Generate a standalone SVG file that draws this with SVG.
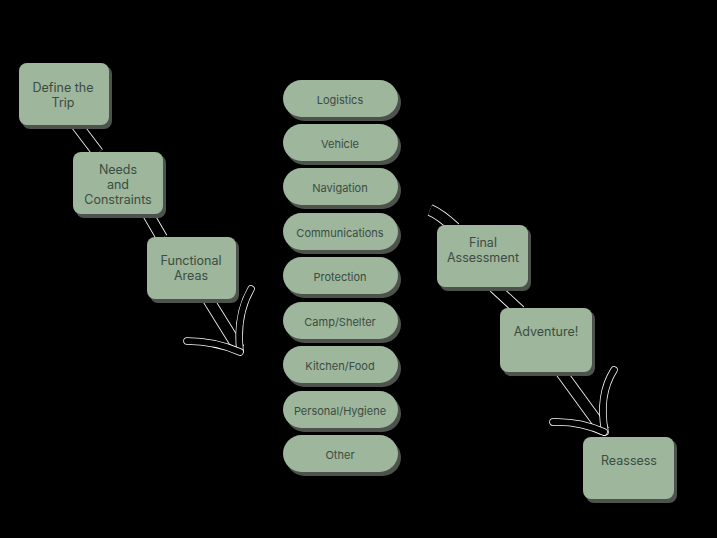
<svg xmlns="http://www.w3.org/2000/svg" width="717" height="538" viewBox="0 0 717 538">
<defs>
<style>
.bg{fill:#000}
.sh{fill:#4d524d}
.bx{fill:#9db69c}
.t{font-family:Inter,"Liberation Sans",sans-serif;font-size:12.5px;fill:#3b4c42;text-anchor:middle}
.tp{font-family:Inter,"Liberation Sans",sans-serif;font-size:11px;fill:#3b4c42;text-anchor:middle}
.ow{fill:none;stroke:#fff;stroke-width:12;stroke-linecap:butt;stroke-linejoin:round}
.ob{fill:none;stroke:#000;stroke-width:10.4;stroke-linecap:butt;stroke-linejoin:round}
.hw{fill:none;stroke:#fff;stroke-width:7.5;stroke-linecap:round}
.hb{fill:none;stroke:#000;stroke-width:6;stroke-linecap:round}
</style>
</defs>
<rect class="bg" x="0" y="0" width="717" height="538"/>
<g id="connectors">
<path class="ow" d="M76,124 L98,153"/><path class="ob" d="M76,124 L98,153"/>
<path class="ow" d="M148,214 L162,238"/><path class="ob" d="M148,214 L162,238"/>
<path class="ow" d="M208,299 L239,349"/><path class="ob" d="M208,299 L239,349"/>
<path class="hw" d="M251,289 Q236,315 240,351"/><path class="hb" d="M251,289 Q236,315 240,351"/>
<path class="hw" d="M187,341 Q215,341 240,352"/><path class="hb" d="M187,341 Q215,341 240,352"/>
<path class="ow" d="M430,210 Q440,214 455,228"/><path class="ob" d="M430,210 Q440,214 455,228"/>
<path class="ow" d="M494,287 L520,311"/><path class="ob" d="M494,287 L520,311"/>
<path class="ow" d="M561,372 L604,431"/><path class="ob" d="M561,372 L604,431"/>
<path class="hw" d="M614,370 Q598,395 605,432"/><path class="hb" d="M614,370 Q598,395 605,432"/>
<path class="hw" d="M553,422 Q580,421 604,432"/><path class="hb" d="M553,422 Q580,421 604,432"/>
</g>
<g id="define-trip">
<rect class="sh" x="22" y="66" width="90" height="63" rx="8"/>
<rect class="bx" x="19" y="63" width="90" height="62" rx="8"/>
<text class="t" x="63" y="92">Define the</text>
<text class="t" x="63" y="107">Trip</text>
</g>
<g id="needs">
<rect class="sh" x="76" y="155" width="90" height="63" rx="8"/>
<rect class="bx" x="73" y="152" width="90" height="62" rx="8"/>
<text class="t" x="118" y="174">Needs</text>
<text class="t" x="118" y="189">and</text>
<text class="t" x="118" y="204">Constraints</text>
</g>
<g id="functional">
<rect class="sh" x="150" y="240" width="89" height="63" rx="8"/>
<rect class="bx" x="147" y="237" width="89" height="62" rx="8"/>
<text class="t" x="191" y="265">Functional</text>
<text class="t" x="191" y="280">Areas</text>
</g>
<g id="p-logistics"><rect class="sh" x="286" y="84" width="115" height="37" rx="18.5"/><rect class="bx" x="283" y="80" width="115" height="37" rx="18.5"/><text class="tp" x="340" y="104">Logistics</text></g>
<g id="p-vehicle"><rect class="sh" x="286" y="128" width="115" height="37" rx="18.5"/><rect class="bx" x="283" y="124" width="115" height="37" rx="18.5"/><text class="tp" x="340" y="148">Vehicle</text></g>
<g id="p-navigation"><rect class="sh" x="286" y="172" width="115" height="37" rx="18.5"/><rect class="bx" x="283" y="168" width="115" height="37" rx="18.5"/><text class="tp" x="340" y="192">Navigation</text></g>
<g id="p-communications"><rect class="sh" x="286" y="217" width="115" height="37" rx="18.5"/><rect class="bx" x="283" y="213" width="115" height="37" rx="18.5"/><text class="tp" x="340" y="237">Communications</text></g>
<g id="p-protection"><rect class="sh" x="286" y="261" width="115" height="37" rx="18.5"/><rect class="bx" x="283" y="257" width="115" height="37" rx="18.5"/><text class="tp" x="340" y="281">Protection</text></g>
<g id="p-camp"><rect class="sh" x="286" y="306" width="115" height="37" rx="18.5"/><rect class="bx" x="283" y="302" width="115" height="37" rx="18.5"/><text class="tp" x="340" y="326">Camp/Shelter</text></g>
<g id="p-kitchen"><rect class="sh" x="286" y="350" width="115" height="37" rx="18.5"/><rect class="bx" x="283" y="346" width="115" height="37" rx="18.5"/><text class="tp" x="340" y="370">Kitchen/Food</text></g>
<g id="p-personal"><rect class="sh" x="286" y="395" width="115" height="37" rx="18.5"/><rect class="bx" x="283" y="391" width="115" height="37" rx="18.5"/><text class="tp" x="340" y="415">Personal/Hygiene</text></g>
<g id="p-other"><rect class="sh" x="286" y="439" width="115" height="37" rx="18.5"/><rect class="bx" x="283" y="435" width="115" height="37" rx="18.5"/><text class="tp" x="340" y="459">Other</text></g>
<g id="final">
<rect class="sh" x="440" y="228" width="91" height="63" rx="8"/>
<rect class="bx" x="437" y="225" width="91" height="62" rx="8"/>
<text class="t" x="483" y="247">Final</text>
<text class="t" x="483" y="262">Assessment</text>
</g>
<g id="adventure">
<rect class="sh" x="503" y="311" width="92" height="65" rx="8"/>
<rect class="bx" x="500" y="308" width="92" height="64" rx="8"/>
<text class="t" x="546" y="336">Adventure!</text>
</g>
<g id="reassess">
<rect class="sh" x="586" y="440" width="91" height="63" rx="8"/>
<rect class="bx" x="583" y="437" width="91" height="62" rx="8"/>
<text class="t" x="629" y="465">Reassess</text>
</g>
</svg>
